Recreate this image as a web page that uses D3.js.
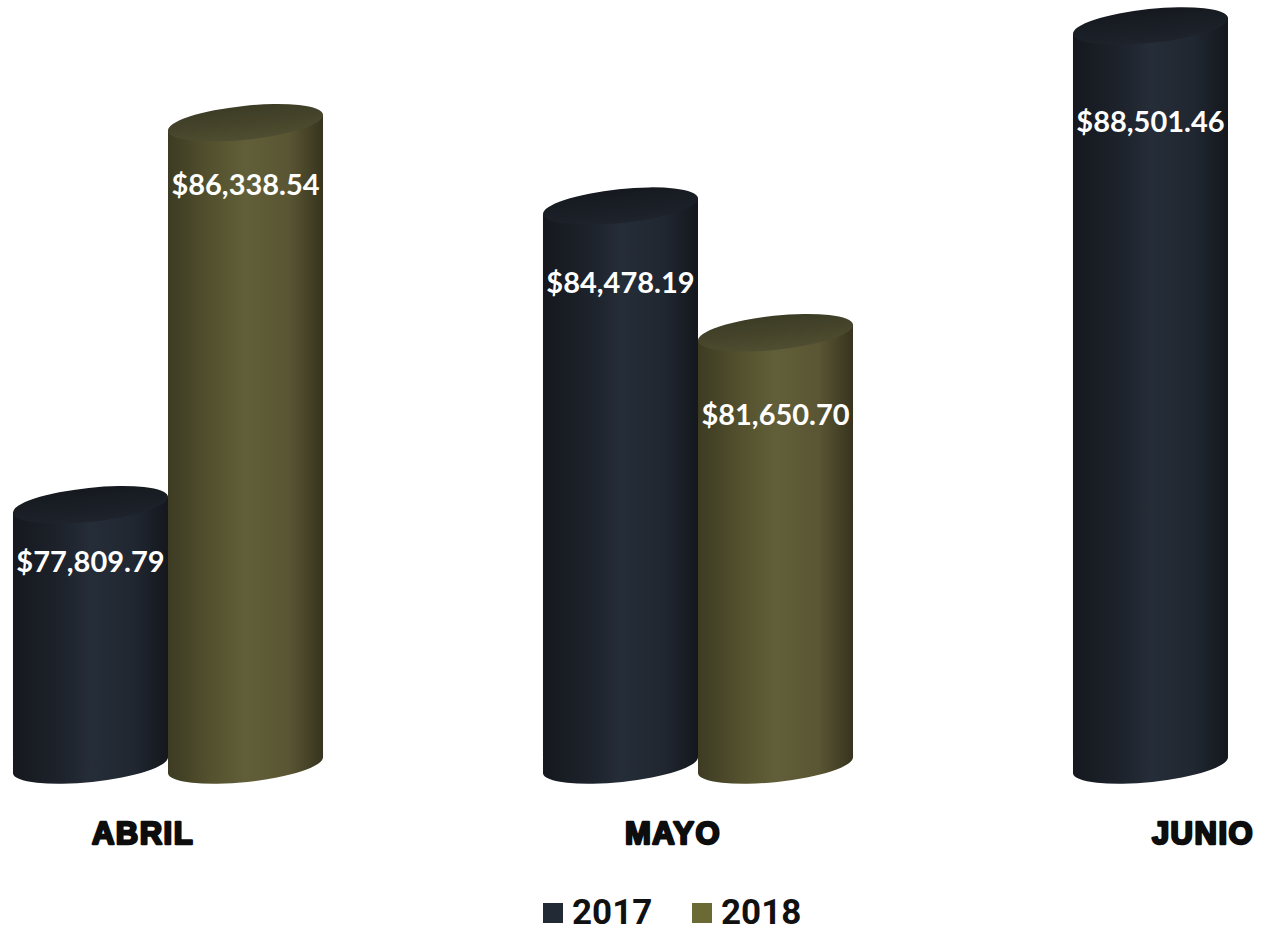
<!DOCTYPE html>
<html>
<head>
<meta charset="utf-8">
<script src="https://cdn.jsdelivr.net/npm/d3@7"></script>
<style>
  html, body { margin: 0; padding: 0; background: #ffffff; }
  svg { display: block; }
</style>
</head>
<body>
<svg id="chart" width="1264" height="932"></svg>
<script>
const categories = ["ABRIL", "MAYO", "JUNIO"];
const seriesNames = ["2017", "2018"];
const values2017 = [77809.79, 84478.19, 88501.46];
const values2018 = [86338.54, 81650.70, null];
const yDomain = [72000, 88500];

const svg = d3.select("#chart");
const defs = svg.append("defs");

const seriesStyle = {
  "2017": { stops: ["#15181e", "#1d222b", "#252d38", "#202731", "#14171d"], top: ["#15191f", "#1e232c"], swatch: "#222a35" },
  "2018": { stops: ["#3d3b22", "#55532f", "#615f39", "#5a5533", "#36341f"], top: ["#3c3b25", "#4f4e31"], swatch: "#6b6a34" }
};

seriesNames.forEach((s, i) => {
  const st = seriesStyle[s];
  const g = defs.append("linearGradient").attr("id", "body" + i).attr("x1", "0").attr("x2", "1").attr("y1", "0").attr("y2", "0");
  [0, 0.3, 0.5, 0.78, 1].forEach((o, k) => g.append("stop").attr("offset", o).attr("stop-color", st.stops[k]));
  const t = defs.append("linearGradient").attr("id", "top" + i).attr("x1", "0").attr("x2", "0").attr("y1", "0").attr("y2", "1");
  t.append("stop").attr("offset", 0).attr("stop-color", st.top[0]);
  t.append("stop").attr("offset", 1).attr("stop-color", st.top[1]);
});

const x0 = d3.scaleBand().domain(categories).range([-97, 1493]).paddingInner(0.415).paddingOuter(0.2075);
const x1 = d3.scaleBand().domain(seriesNames).range([0, x0.bandwidth()]);
const y = d3.scaleLinear().domain(yDomain).range([765, 26]);

const data = [];
seriesNames.forEach((s, si) => {
  const vals = si === 0 ? values2017 : values2018;
  categories.forEach((c, ci) => {
    if (vals[ci] != null) data.push({ cat: c, series: s, si: si, value: vals[ci] });
  });
});

const theta = -6 * Math.PI / 180;
const fmt = v => "$" + d3.format(",.2f")(v);

const bars = svg.append("g");
data.forEach(d => {
  const bx = x0(d.cat) + x1(d.series);
  const bw = x1.bandwidth();
  const cx = bx + bw / 2;
  const rx = bw / 2 / Math.cos(theta);
  const ry = 17;
  const dx = rx * Math.cos(theta), dy = rx * Math.sin(theta);
  const yt = y(d.value), yb = y(yDomain[0]);
  const g = bars.append("g");
  const body = `M${cx - dx},${yt - dy} L${cx - dx},${yb - dy} A${rx},${ry} -6 0 0 ${cx + dx},${yb + dy} L${cx + dx},${yt + dy} Z`;
  g.append("path").attr("d", body).attr("fill", `url(#body${d.si})`);
  g.append("ellipse")
    .attr("cx", cx).attr("cy", yt).attr("rx", rx).attr("ry", ry)
    .attr("transform", `rotate(-6 ${cx} ${yt})`)
    .attr("fill", `url(#top${d.si})`);
  d.cx = cx; d.yt = yt;
});

// data labels
svg.append("g").selectAll("text").data(data).join("text")
  .attr("x", d => d.cx)
  .attr("y", d => d.yt + 52 + d.cx * 0.037)
  .attr("text-anchor", "middle")
  .attr("dominant-baseline", "central")
  .attr("font-family", "Lato, 'Open Sans', sans-serif")
  .attr("font-weight", 700)
  .attr("font-size", 29)
  .attr("fill", "#ffffff")
  .text(d => fmt(d.value));

// category labels
svg.append("g").selectAll("text").data(categories).join("text")
  .attr("x", c => x0(c) + x0.bandwidth() / 2 - 25)
  .attr("y", 844)
  .attr("text-anchor", "middle")
  .attr("font-family", "'Liberation Sans', Arial, sans-serif")
  .attr("font-weight", 700)
  .attr("font-size", 31)
  .attr("letter-spacing", 1.5)
  .attr("fill", "#0d0d0d")
  .attr("stroke", "#0d0d0d")
  .attr("stroke-width", 2.4)
  .attr("stroke-linejoin", "round")
  .text(c => c);

// legend
const legend = svg.append("g");
const legendX = [543, 692];
seriesNames.forEach((s, i) => {
  legend.append("rect").attr("x", legendX[i]).attr("y", 903).attr("width", 20).attr("height", 20)
    .attr("fill", seriesStyle[s].swatch);
  legend.append("text").attr("x", legendX[i] + 29).attr("y", 924)
    .attr("font-family", "Roboto, 'Liberation Sans', sans-serif")
    .attr("font-weight", 700).attr("font-size", 35).attr("fill", "#111111")
    .text(s);
});
</script>
</body>
</html>
